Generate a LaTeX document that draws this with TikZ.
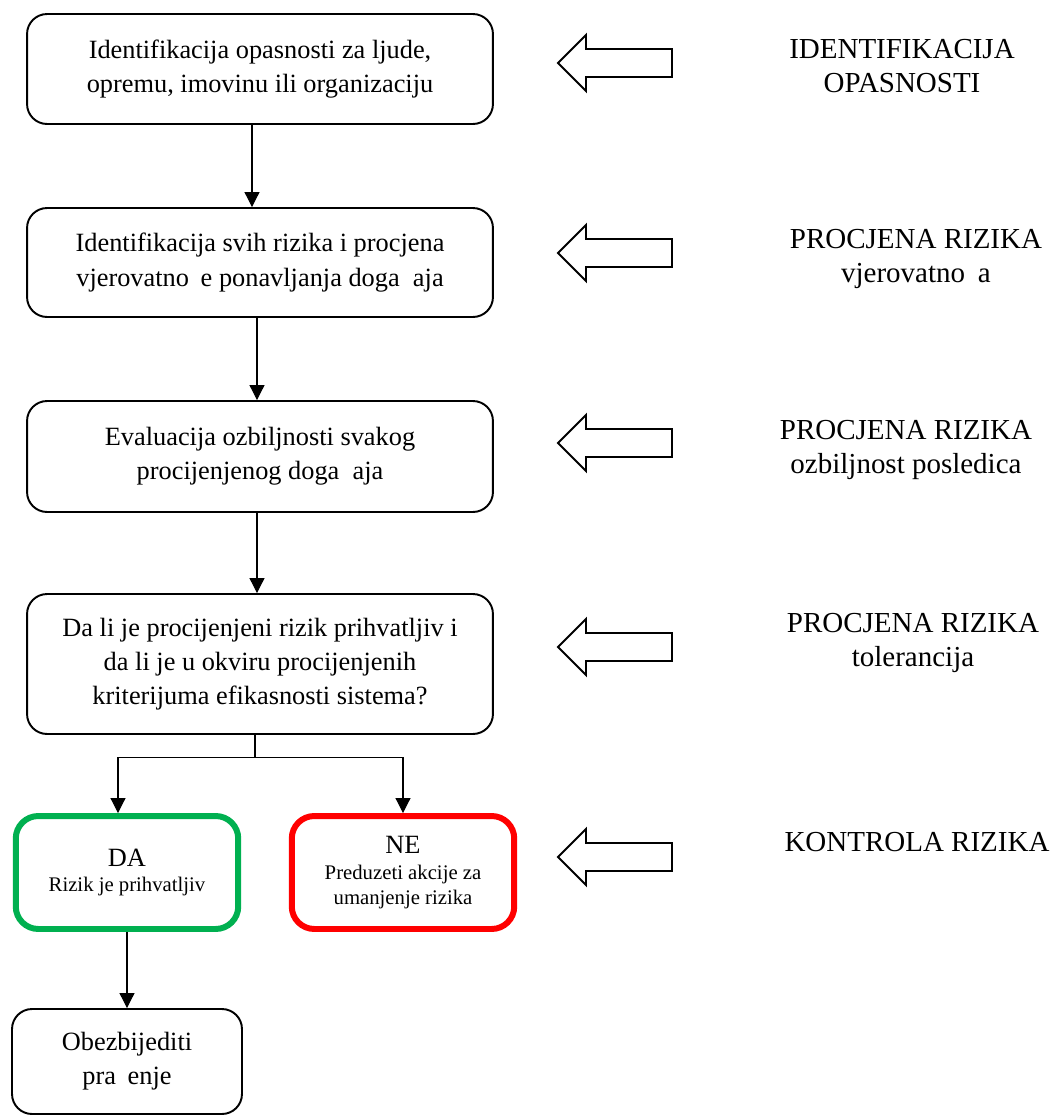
\documentclass[tikz,border=0pt]{standalone}
\usepackage{fontspec}
\setmainfont{Liberation Serif}
\usetikzlibrary{arrows.meta}
\definecolor{dagreen}{RGB}{0,176,80}

\begin{document}
\begin{tikzpicture}
  [x=0.02cm,y=-0.02cm,
   stepbox/.style={draw,rounded corners=0.4cm,line width=1.1pt,minimum width=9.32cm,
     inner sep=0pt,align=center,font=\fontsize{15}{19.5}\selectfont},
   answer/.style={draw,rounded corners=0.45cm,line width=3.4pt,minimum width=4.45cm,
     minimum height=2.26cm,inner sep=0pt,align=center,font=\fontsize{11.8}{14}\selectfont},
   stagetext/.style={align=center,font=\fontsize{16.5}{19.5}\selectfont},
   flow/.style={-{Triangle[length=0.3cm,width=0.3cm]},line width=0.6pt},
   hollow/.style={draw,line width=1.1pt,line join=miter}]
  \useasboundingbox (0,0) rectangle (1055,1117);

  % flow of steps
  \node[stepbox,minimum height=2.2cm]  (b1) at (260,69)    {Identifikacija opasnosti za ljude,\\opremu, imovinu ili organizaciju};
  \node[stepbox,minimum height=2.18cm] (b2) at (260,262.5) {Identifikacija svih rizika i procjena\\vjerovatno\hspace{.444em}e ponavljanja doga\hspace{.5em}aja};
  \node[stepbox,minimum height=2.22cm] (b3) at (260,456.5) {Evaluacija ozbiljnosti svakog\\procijenjenog doga\hspace{.5em}aja};
  \node[stepbox,minimum height=2.8cm]  (b4) at (260,664)   {Da li je procijenjeni rizik prihvatljiv i\\da li je u okviru procijenjenih\\kriterijuma efikasnosti sistema?};
  \node[answer,draw=dagreen] (da) at (127,872.5) {{\fontsize{15}{17}\selectfont DA}\\Rizik je prihvatljiv};
  \node[answer,draw=red]     (ne) at (403,872.5) {{\fontsize{15}{17}\selectfont NE}\\[1pt]Preduzeti akcije za\\umanjenje rizika};
  \node[stepbox,minimum width=4.6cm,minimum height=2.1cm] (ob) at (127,1061.5) {Obezbijediti\\pra\hspace{.444em}enje};

  \draw[flow] ([xshift=-0.16cm]b1.south) -- ([xshift=-0.16cm]b2.north);
  \draw[flow] ([xshift=-0.06cm]b2.south) -- ([xshift=-0.06cm]b3.north);
  \draw[flow] ([xshift=-0.06cm]b3.south) -- ([xshift=-0.06cm]b4.north);
  \draw[line width=0.6pt] ([xshift=-0.1cm]b4.south) -- ++(0,23) coordinate (fork);
  \draw[flow] (fork) -| ([xshift=-0.18cm]da.north);
  \draw[flow] (fork) -| (ne.north);
  \draw[flow] (da.south) -- (ob.north);

  % stages on the right
  \foreach \ay in {63,253,443,647,857}
    \draw[hollow] (558,\ay) -- ++(28,-28) -- ++(0,14) -- ++(86,0) -- ++(0,28)
      -- ++(-86,0) -- ++(0,14) -- cycle;
  \node[stagetext] (s1) at (902,66)  {IDENTIFIKACIJA\\OPASNOSTI};
  \node[stagetext] (s2) at (916,259) {PROCJENA RIZIKA\\vjerovatno\hspace{.444em}a};
  \node[stagetext] (s3) at (906,450) {PROCJENA RIZIKA\\ozbiljnost posledica};
  \node[stagetext] (s4) at (913,643) {PROCJENA RIZIKA\\tolerancija};
  \node[stagetext] (s5) at (917,842) {KONTROLA RIZIKA};
\end{tikzpicture}
\end{document}
